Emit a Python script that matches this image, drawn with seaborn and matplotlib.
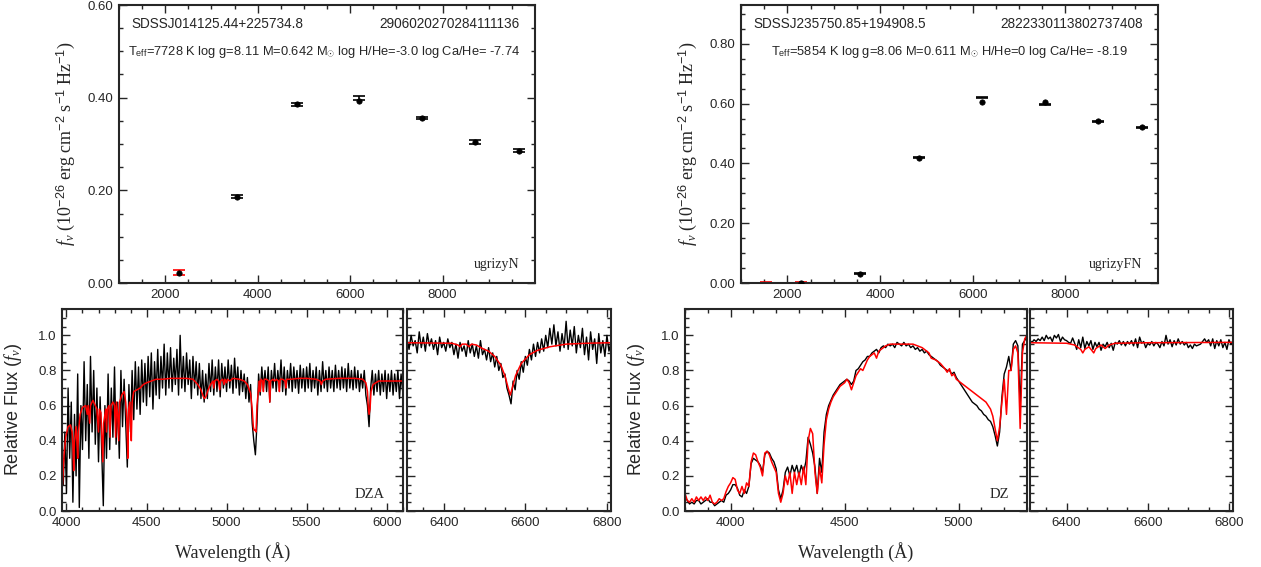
import numpy as np
import pandas as pd
import matplotlib
matplotlib.use("Agg")
import matplotlib.pyplot as plt
from matplotlib.ticker import MultipleLocator, FormatStrFormatter
import seaborn as sns

# ---------------- photometry (top panels) ----------------
phot_wave_1 = [2300, 3560, 4850, 6200, 7550, 8700, 9650]
phot_obs_1 = [0.022, 0.186, 0.386, 0.399, 0.356, 0.304, 0.286]
phot_err_1 = [0.005, 0.003, 0.003, 0.004, 0.002, 0.004, 0.004]
phot_model_1 = [0.022, 0.186, 0.386, 0.393, 0.356, 0.304, 0.285]
phot_color_1 = ["red", "k", "k", "k", "k", "k", "k"]

phot_wave_2 = [1530, 2300, 3560, 4850, 6200, 7550, 8700, 9650]
phot_obs_2 = [0.001, 0.001, 0.031, 0.419, 0.620, 0.597, 0.541, 0.520]
phot_err_2 = [0.002, 0.002, 0.002, 0.002, 0.002, 0.002, 0.002, 0.002]
phot_model_2 = [None, 0.000, 0.031, 0.419, 0.604, 0.606, 0.541, 0.521]
phot_color_2 = ["red", "red", "k", "k", "k", "k", "k", "k"]

# ---------------- DZA spectrum, blue part (10 A steps from 3980) ----------------
dza_blue_start, dza_blue_step = 3980, 10
dza_blue_flux = [
    0.15, 0.45, 0.10, 0.70, 0.30, 0.62, 0.05, 0.55, 0.20, 0.78,
    0.02, 0.60, 0.35, 0.85, 0.40, 0.72, 0.30, 0.88, 0.45, 0.80,
    0.38, 0.70, 0.28, 0.65, 0.35, 0.03, 0.60, 0.30, 0.78, 0.35,
    0.70, 0.42, 0.82, 0.38, 0.62, 0.30, 0.80, 0.48, 0.75, 0.50,
    0.25, 0.72, 0.45, 0.80, 0.52, 0.85, 0.58, 0.82, 0.55, 0.86,
    0.62, 0.84, 0.60, 0.88, 0.65, 0.90, 0.58, 0.85, 0.66, 0.92,
    0.64, 0.88, 0.70, 0.95, 0.66, 0.90, 0.70, 0.93, 0.68, 0.87,
    0.72, 0.92, 0.66, 1.00, 0.70, 0.88, 0.68, 0.90, 0.72, 0.86,
    0.64, 0.88, 0.70, 0.85, 0.66, 0.84, 0.64, 0.80, 0.62, 0.78,
    0.64, 0.84, 0.68, 0.86, 0.66, 0.82, 0.68, 0.86, 0.65, 0.84,
    0.70, 0.82, 0.68, 0.86, 0.70, 0.83, 0.67, 0.87, 0.70, 0.82,
    0.66, 0.80, 0.68, 0.78, 0.64, 0.76, 0.62, 0.72, 0.50, 0.40,
    0.32, 0.50, 0.78, 0.66, 0.82, 0.70, 0.80, 0.68, 0.82, 0.62,
    0.80, 0.70, 0.84, 0.68, 0.80, 0.70, 0.86, 0.68, 0.82, 0.66,
    0.80, 0.70, 0.84, 0.68, 0.82, 0.70, 0.80, 0.67, 0.83, 0.70,
    0.81, 0.68, 0.82, 0.70, 0.84, 0.68, 0.80, 0.70, 0.82, 0.66,
    0.80, 0.68, 0.85, 0.70, 0.80, 0.68, 0.82, 0.70, 0.80, 0.68,
    0.83, 0.70, 0.80, 0.69, 0.82, 0.70, 0.81, 0.68, 0.84, 0.70,
    0.80, 0.69, 0.82, 0.70, 0.80, 0.68, 0.78, 0.70, 0.80, 0.66,
    0.60, 0.48, 0.70, 0.80, 0.66, 0.78, 0.68, 0.80, 0.66, 0.78,
    0.68, 0.80, 0.64, 0.78, 0.68, 0.80, 0.66, 0.78, 0.68, 0.80,
    0.64, 0.78, 0.68,
]
dza_blue_model_wave = [
    3975, 3985, 3995, 4010, 4025, 4035, 4040, 4045, 4050, 4060, 4065, 4070, 4075, 4085,
    4100, 4120, 4130, 4135, 4145, 4150, 4165, 4180, 4190, 4200, 4205, 4215, 4222, 4227,
    4232, 4245, 4250, 4255, 4265, 4272, 4278, 4290, 4300, 4307, 4312, 4320, 4326, 4332,
    4345, 4360, 4370, 4378, 4383, 4388, 4395, 4400, 4405, 4410, 4420, 4440, 4460, 4480,
    4500, 4530, 4560, 4600, 4650, 4700, 4750, 4790, 4820, 4840, 4855, 4862, 4870, 4885,
    4900, 4915, 4920, 4925, 4940, 4950, 4957, 4962, 4975, 4985, 4990, 5000, 5005, 5020,
    5040, 5080, 5110, 5130, 5150, 5160, 5167, 5172, 5178, 5184, 5190, 5200, 5205, 5210,
    5215, 5225, 5230, 5235, 5250, 5265, 5270, 5275, 5290, 5300, 5310, 5325, 5330, 5335,
    5350, 5365, 5370, 5375, 5400, 5450, 5500, 5560, 5585, 5592, 5600, 5620, 5700, 5800,
    5850, 5870, 5880, 5886, 5890, 5896, 5902, 5915, 5950, 6000, 6050, 6100,
]
dza_blue_model_flux = [
    0.15, 0.32, 0.42, 0.48, 0.49, 0.45, 0.38, 0.23, 0.40, 0.48, 0.40, 0.30, 0.45, 0.55,
    0.59, 0.60, 0.55, 0.60, 0.50, 0.60, 0.63, 0.60, 0.58, 0.45, 0.58, 0.56, 0.40, 0.28,
    0.50, 0.58, 0.45, 0.58, 0.60, 0.42, 0.60, 0.62, 0.60, 0.42, 0.62, 0.55, 0.40, 0.62,
    0.66, 0.68, 0.62, 0.50, 0.30, 0.58, 0.62, 0.50, 0.40, 0.62, 0.68, 0.69, 0.70, 0.72,
    0.73, 0.74, 0.75, 0.75, 0.755, 0.755, 0.755, 0.75, 0.72, 0.69, 0.65, 0.64, 0.65, 0.69,
    0.72, 0.74, 0.70, 0.74, 0.75, 0.74, 0.69, 0.74, 0.75, 0.72, 0.75, 0.73, 0.75, 0.74,
    0.755, 0.75, 0.74, 0.72, 0.67, 0.58, 0.48, 0.46, 0.46, 0.45, 0.60, 0.70, 0.74, 0.68,
    0.75, 0.74, 0.68, 0.75, 0.75, 0.74, 0.62, 0.74, 0.75, 0.74, 0.75, 0.74, 0.68, 0.75,
    0.75, 0.74, 0.70, 0.75, 0.75, 0.755, 0.755, 0.75, 0.74, 0.72, 0.74, 0.75, 0.755, 0.755,
    0.75, 0.73, 0.68, 0.58, 0.55, 0.58, 0.68, 0.72, 0.74, 0.74, 0.74, 0.74,
]

# ---------------- DZA, H-alpha region (5 A steps from 6310) ----------------
dza_red_start, dza_red_step = 6310, 5
dza_red_flux = [
    0.98, 0.92, 1.00, 0.94, 0.97, 0.90, 1.02, 0.93, 0.99, 0.91,
    1.01, 0.94, 0.98, 0.92, 0.97, 0.89, 0.99, 0.93, 0.96, 0.91,
    0.98, 0.93, 0.96, 0.89, 0.95, 0.87, 0.96, 0.91, 0.94, 0.88,
    0.97, 0.90, 0.95, 0.88, 0.94, 0.87, 0.97, 0.89, 0.92, 0.86,
    0.93, 0.85, 0.90, 0.82, 0.88, 0.80, 0.84, 0.76, 0.78, 0.70,
    0.66, 0.61, 0.74, 0.69, 0.80, 0.75, 0.85, 0.79, 0.88, 0.83,
    0.92, 0.86, 0.95, 0.88, 0.96, 0.90, 0.98, 0.91, 1.00, 0.93,
    1.04, 0.95, 1.06, 0.94, 1.02, 0.91, 1.01, 0.93, 1.08, 0.92,
    1.03, 0.94, 1.05, 0.90, 1.00, 0.93, 1.04, 0.89, 0.99, 0.86,
    1.02, 0.92, 0.98, 0.84, 1.01, 0.90, 0.97, 0.88, 1.00, 0.91,
    0.96,
]
dza_red_model_wave = [
    6310, 6420, 6435, 6440, 6445, 6455, 6462, 6468, 6480, 6495, 6510, 6525, 6540,
    6550, 6558, 6563, 6568, 6576, 6590, 6610, 6630, 6660, 6700, 6750, 6810,
]
dza_red_model_flux = [
    0.958, 0.955, 0.945, 0.935, 0.95, 0.95, 0.935, 0.95, 0.945, 0.925, 0.91, 0.88, 0.83,
    0.77, 0.70, 0.66, 0.70, 0.77, 0.84, 0.89, 0.915, 0.935, 0.95, 0.955, 0.958,
]

# ---------------- DZ spectrum, blue part (10 A steps from 3800) ----------------
dz_blue_start, dz_blue_step = 3800, 10
dz_blue_flux = [
    0.08, 0.06, 0.04, 0.05, 0.04, 0.06, 0.06, 0.04, 0.05, 0.06,
    0.07, 0.05, 0.05, 0.03, 0.04, 0.05, 0.06, 0.05, 0.09, 0.10,
    0.12, 0.15, 0.15, 0.13, 0.09, 0.08, 0.12, 0.10, 0.14, 0.27,
    0.30, 0.29, 0.28, 0.26, 0.22, 0.32, 0.34, 0.33, 0.30, 0.28,
    0.24, 0.12, 0.07, 0.12, 0.22, 0.25, 0.20, 0.26, 0.22, 0.26,
    0.20, 0.26, 0.22, 0.28, 0.42, 0.38, 0.33, 0.25, 0.10, 0.30,
    0.22, 0.45, 0.55, 0.60, 0.63, 0.66, 0.68, 0.70, 0.72, 0.73,
    0.74, 0.75, 0.74, 0.72, 0.74, 0.80, 0.81, 0.83, 0.85, 0.86,
    0.88, 0.88, 0.90, 0.91, 0.92, 0.90, 0.93, 0.94, 0.93, 0.95,
    0.94, 0.95, 0.93, 0.96, 0.95, 0.94, 0.96, 0.94, 0.95, 0.93,
    0.94, 0.92, 0.93, 0.91, 0.92, 0.90, 0.91, 0.89, 0.88, 0.87,
    0.86, 0.85, 0.83, 0.82, 0.81, 0.80, 0.80, 0.78, 0.79, 0.76,
    0.74, 0.72, 0.70, 0.68, 0.66, 0.64, 0.62, 0.61, 0.60, 0.58,
    0.57, 0.55, 0.54, 0.52, 0.51, 0.48, 0.43, 0.37, 0.45, 0.65,
    0.78, 0.82, 0.88, 0.80, 0.95, 0.97, 0.94, 0.60, 0.95, 0.97,
    1.00,
]
dz_blue_model_flux = [
    0.10, 0.06, 0.05, 0.07, 0.05, 0.08, 0.06, 0.08, 0.06, 0.08,
    0.06, 0.09, 0.05, 0.04, 0.05, 0.07, 0.06, 0.07, 0.11, 0.14,
    0.16, 0.19, 0.18, 0.12, 0.10, 0.14, 0.10, 0.16, 0.14, 0.28,
    0.33, 0.32, 0.28, 0.25, 0.20, 0.33, 0.34, 0.32, 0.28, 0.25,
    0.22, 0.10, 0.05, 0.10, 0.20, 0.15, 0.22, 0.10, 0.22, 0.15,
    0.22, 0.15, 0.25, 0.15, 0.40, 0.47, 0.44, 0.22, 0.10, 0.25,
    0.16, 0.38, 0.52, 0.58, 0.62, 0.65, 0.67, 0.69, 0.71, 0.72,
    0.73, 0.75, 0.73, 0.69, 0.73, 0.77, 0.79, 0.81, 0.80, 0.83,
    0.86, 0.88, 0.89, 0.90, 0.87, 0.91, 0.92, 0.93, 0.94, 0.945,
    0.95, 0.95, 0.95, 0.95, 0.95, 0.95, 0.95, 0.95, 0.95, 0.95,
    0.95, 0.945, 0.94, 0.935, 0.93, 0.92, 0.91, 0.90, 0.87, 0.865,
    0.86, 0.85, 0.84, 0.825, 0.81, 0.79, 0.81, 0.77, 0.78, 0.75,
    0.74, 0.73, 0.72, 0.71, 0.70, 0.69, 0.68, 0.67, 0.66, 0.65,
    0.64, 0.63, 0.62, 0.60, 0.58, 0.54, 0.47, 0.40, 0.48, 0.62,
    0.75, 0.55, 0.80, 0.80, 0.92, 0.94, 0.90, 0.47, 0.90, 0.98,
    1.00,
]

# ---------------- DZ, H-alpha region (5 A steps from 6310) ----------------
dz_red_start, dz_red_step = 6310, 5
dz_red_flux = [
    0.97, 0.96, 0.975, 0.965, 0.98, 0.97, 0.99, 0.97, 1.00, 0.98,
    0.99, 0.965, 1.00, 0.985, 1.005, 0.965, 0.99, 0.975, 0.97, 0.96,
    0.955, 0.985, 0.955, 0.92, 0.975, 0.93, 0.99, 0.925, 0.965, 0.94,
    0.97, 0.92, 0.96, 0.935, 0.96, 0.915, 0.95, 0.935, 0.96, 0.93,
    0.955, 0.915, 0.96, 0.95, 0.97, 0.945, 0.965, 0.94, 0.965, 0.95,
    0.97, 0.94, 0.98, 0.93, 0.99, 0.955, 0.965, 0.93, 0.955, 0.945,
    0.965, 0.94, 0.96, 0.95, 0.93, 0.965, 0.94, 1.00, 0.95, 0.975,
    0.935, 0.97, 0.945, 0.98, 0.95, 0.965, 0.945, 0.96, 0.93, 0.945,
    0.925, 0.95, 0.94, 0.945, 0.95, 0.965, 0.98, 0.96, 0.975, 0.94,
    0.98, 0.925, 0.97, 0.94, 0.975, 0.93, 0.96, 0.92, 0.975, 0.95,
    0.97,
]
dz_red_model_wave = [6310, 6400, 6420, 6435, 6440, 6445, 6455, 6462, 6467, 6472,
                     6485, 6495, 6505, 6520, 6600, 6810]
dz_red_model_flux = [0.958, 0.955, 0.945, 0.92, 0.90, 0.92, 0.935, 0.915, 0.90, 0.925,
                     0.945, 0.925, 0.945, 0.955, 0.958, 0.96]

# ---------------- labels ----------------
names = ["SDSSJ014125.44+225734.8", "SDSSJ235750.85+194908.5"]
spec_ids = ["2906020270284111136", "2822330113802737408"]
params = [r"T$_{\rm eff}$=7728 K log g=8.11 M=0.642 M$_{\odot}$ log H/He=-3.0 log Ca/He= -7.74",
          r"T$_{\rm eff}$=5854 K log g=8.06 M=0.611 M$_{\odot}$ H/He=0 log Ca/He= -8.19"]
phot_sets = ["ugrizyN", "ugrizyFN"]
sp_types = ["DZA", "DZ"]

sns.set_style("ticks")
plt.rcParams["font.family"] = ["Liberation Sans", "DejaVu Sans"]
plt.rcParams["mathtext.fontset"] = "custom"
plt.rcParams["mathtext.rm"] = "Liberation Sans"
plt.rcParams["mathtext.it"] = "Liberation Serif:italic"

W, H = 1261, 567
fig = plt.figure(figsize=(W / 100, H / 100), dpi=100)


def box(x0, x1, y0, y1):
    return [x0 / W, 1 - y1 / H, (x1 - x0) / W, (y1 - y0) / H]


def style(ax, xmaj, xmin, ymaj, ymin):
    ax.xaxis.set_major_locator(MultipleLocator(xmaj))
    ax.xaxis.set_minor_locator(MultipleLocator(xmin))
    ax.yaxis.set_major_locator(MultipleLocator(ymaj))
    ax.yaxis.set_minor_locator(MultipleLocator(ymin))
    ax.tick_params(which="both", direction="in", top=True, right=True,
                   labelsize=9.5, width=1.0, pad=4)
    ax.tick_params(which="major", length=6)
    ax.tick_params(which="minor", length=3)
    for s in ax.spines.values():
        s.set_linewidth(1.5)
        s.set_visible(True)
    ax.set_xlabel("")
    ax.set_ylabel("")


ylab_top = r"$f_{\nu}$ (10$^{-26}$ erg cm$^{-2}$ s$^{-1}$ Hz$^{-1}$)"

top_boxes = [box(119, 535, 5, 283), box(741, 1158, 5, 283)]
top_ylims = [0.60, 0.93]
phot = [(phot_wave_1, phot_obs_1, phot_err_1, phot_model_1, phot_color_1),
        (phot_wave_2, phot_obs_2, phot_err_2, phot_model_2, phot_color_2)]

for i in range(2):
    ax = fig.add_axes(top_boxes[i])
    wv, obs, err, mod, col = phot[i]
    for w, o, e, c in zip(wv, obs, err, col):
        ax.errorbar(w, o, yerr=e, fmt="none", ecolor=c, elinewidth=1.2,
                    capsize=4, capthick=1.2)
    dfm = pd.DataFrame({"w": wv, "f": mod}).dropna()
    sns.scatterplot(data=dfm, x="w", y="f", ax=ax, color="k", s=15,
                    edgecolor="k", linewidth=0.5, zorder=5)
    ax.set_xlim(1000, 9999)
    ax.set_ylim(0, top_ylims[i])
    style(ax, 2000, 500, 0.2, 0.05)
    ax.yaxis.set_major_formatter(FormatStrFormatter("%.2f"))
    ax.set_ylabel(ylab_top, family="Liberation Serif", fontsize=13, labelpad=8)
    ax.text(0.03, 0.932, names[i], transform=ax.transAxes, fontsize=9.8,
            ha="left", va="center")
    ax.text(0.963, 0.932, spec_ids[i], transform=ax.transAxes, fontsize=9.8,
            ha="right", va="center")
    ax.text(0.022 if i == 0 else 0.072, 0.832, params[i], transform=ax.transAxes,
            fontsize=9.3, ha="left", va="center")
    ax.text(0.963, 0.065, phot_sets[i], transform=ax.transAxes, fontsize=10,
            family="Liberation Serif", ha="right", va="center")


def spec_df(start, step, flux):
    wave = start + step * np.arange(len(flux))
    return pd.DataFrame({"wave": wave, "flux": flux})


blue_obs = [spec_df(dza_blue_start, dza_blue_step, dza_blue_flux),
            spec_df(dz_blue_start, dz_blue_step, dz_blue_flux)]
blue_mod = [pd.DataFrame({"wave": dza_blue_model_wave, "flux": dza_blue_model_flux}),
            spec_df(dz_blue_start, dz_blue_step, dz_blue_model_flux)]
red_obs = [spec_df(dza_red_start, dza_red_step, dza_red_flux),
           spec_df(dz_red_start, dz_red_step, dz_red_flux)]
red_mod = [pd.DataFrame({"wave": dza_red_model_wave, "flux": dza_red_model_flux}),
           pd.DataFrame({"wave": dz_red_model_wave, "flux": dz_red_model_flux})]

main_boxes = [box(62, 403, 309, 511), box(685, 1027, 309, 511)]
side_boxes = [box(407, 611, 309, 511), box(1030, 1233, 309, 511)]
main_xlims = [(3972, 6102), (3800, 5300)]

for i in range(2):
    ax = fig.add_axes(main_boxes[i])
    sns.lineplot(data=blue_obs[i], x="wave", y="flux", ax=ax, color="k",
                 lw=1.0, estimator=None, sort=False)
    sns.lineplot(data=blue_mod[i], x="wave", y="flux", ax=ax, color="red",
                 lw=1.1, estimator=None, sort=False)
    ax.set_xlim(*main_xlims[i])
    ax.set_ylim(0, 1.15)
    style(ax, 500, 100, 0.2, 0.05)
    ax.yaxis.set_major_formatter(FormatStrFormatter("%.1f"))
    ax.set_ylabel(r"Relative Flux ($f_{\nu}$)", fontsize=13, labelpad=10)
    ax.set_xlabel("Wavelength (Å)", family="Liberation Serif", fontsize=13,
                  labelpad=10)
    ax.text(0.947, 0.084, sp_types[i], transform=ax.transAxes, fontsize=10.5,
            family="Liberation Serif", ha="right", va="center")

    ax2 = fig.add_axes(side_boxes[i])
    sns.lineplot(data=red_obs[i], x="wave", y="flux", ax=ax2, color="k",
                 lw=1.0, estimator=None, sort=False)
    sns.lineplot(data=red_mod[i], x="wave", y="flux", ax=ax2, color="red",
                 lw=1.1, estimator=None, sort=False)
    ax2.set_xlim(6310, 6810)
    ax2.set_ylim(0, 1.15)
    style(ax2, 200, 50, 0.2, 0.05)
    ax2.set_yticklabels([])

fig.savefig("out.png", dpi=100)
